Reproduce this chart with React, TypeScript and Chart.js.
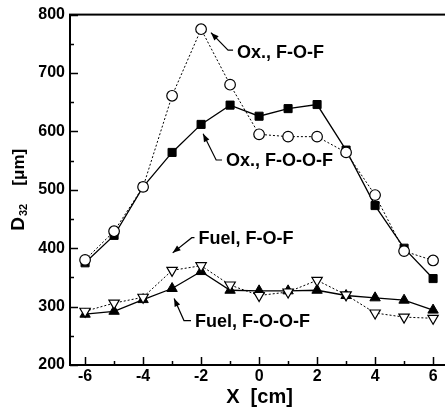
import React, { useEffect, useRef } from "react";
import { Chart, registerables } from "chart.js";

Chart.register(...registerables);

// ---- data ----
const xPositions = [-6, -5, -4, -3, -2, -1, 0, 1, 2, 3, 4, 5, 6];
const oxFOF = [380, 429, 505, 661, 775, 680, 595, 591, 591, 564, 491, 395, 379];
const oxFOOF = [375, 422, 505, 564, 612, 645, 626, 639, 646, 568, 473, 400, 348];
const fuelFOF = [292, 306, 316, 362, 370, 337, 319, 325, 345, 320, 289, 282, 280];
const fuelFOOF = [287, 292, 312, 331, 360, 328, 327, 327, 328, 319, 315, 311, 294];

const xTicks = [-6, -4, -2, 0, 2, 4, 6];
const yTicks = [200, 300, 400, 500, 600, 700, 800];
const xMinorTicks = [-5, -3, -1, 1, 3, 5];
const yMinorTicks = [250, 350, 450, 550, 650, 750];

const xTitle = "X  [cm]";
const yTitleMain = "D";
const yTitleSub = "32";
const yTitleUnit = "[\u03bcm]";

// annotation labels (data coordinates)
const labelTexts = ["Ox., F-O-F", "Ox., F-O-O-F", "Fuel, F-O-F", "Fuel, F-O-O-F"];
const labelX = [-0.76, -1.14, -2.09, -2.21];
const labelY = [734, 550, 416, 274];
const bendX = [-1.07, -1.48, -2.32, -2.59];
const bendY = [739, 551, 418, 276];
const tipX = [-1.66, -1.93, -2.98, -2.93];
const tipY = [769, 596, 392, 314];

const FONT = "'Liberation Sans', Arial, sans-serif";

const toPoints = (ys: number[]) => xPositions.map((x, i) => ({ x, y: ys[i] }));

const decorPlugin = {
  id: "decor",
  afterDraw(chart: any) {
    const ctx = chart.ctx as CanvasRenderingContext2D;
    const { left, right, top, bottom } = chart.chartArea;
    const xs = chart.scales.x;
    const ys = chart.scales.y;
    ctx.save();
    ctx.strokeStyle = "#000";
    ctx.fillStyle = "#000";

    // frame
    ctx.lineWidth = 2;
    ctx.strokeRect(left, top, right - left, bottom - top);

    // ticks (inward)
    ctx.lineWidth = 1.5;
    ctx.beginPath();
    xTicks.forEach((v) => {
      const px = Math.round(xs.getPixelForValue(v)) + 0.5;
      ctx.moveTo(px, bottom);
      ctx.lineTo(px, bottom - 8);
    });
    xMinorTicks.forEach((v) => {
      const px = Math.round(xs.getPixelForValue(v)) + 0.5;
      ctx.moveTo(px, bottom);
      ctx.lineTo(px, bottom - 4);
    });
    yTicks.forEach((v) => {
      const py = Math.round(ys.getPixelForValue(v)) + 0.5;
      ctx.moveTo(left, py);
      ctx.lineTo(left + 8, py);
    });
    yMinorTicks.forEach((v) => {
      const py = Math.round(ys.getPixelForValue(v)) + 0.5;
      ctx.moveTo(left, py);
      ctx.lineTo(left + 4, py);
    });
    ctx.stroke();

    // annotations
    ctx.lineWidth = 1.2;
    ctx.font = `bold 18px ${FONT}`;
    ctx.textBaseline = "middle";
    ctx.textAlign = "left";
    labelTexts.forEach((t, i) => {
      const tx = xs.getPixelForValue(labelX[i]);
      const ty = ys.getPixelForValue(labelY[i]);
      const bx = xs.getPixelForValue(bendX[i]);
      const by = ys.getPixelForValue(bendY[i]);
      const px = xs.getPixelForValue(tipX[i]);
      const py = ys.getPixelForValue(tipY[i]);
      ctx.fillText(t, tx, ty);
      ctx.beginPath();
      ctx.moveTo(tx - 4, by);
      ctx.lineTo(bx, by);
      ctx.lineTo(px, py);
      ctx.stroke();
      const ang = Math.atan2(py - by, px - bx);
      const len = 8;
      const hw = 3;
      ctx.beginPath();
      ctx.moveTo(px, py);
      ctx.lineTo(
        px - len * Math.cos(ang) + hw * Math.sin(ang),
        py - len * Math.sin(ang) - hw * Math.cos(ang)
      );
      ctx.lineTo(
        px - len * Math.cos(ang) - hw * Math.sin(ang),
        py - len * Math.sin(ang) + hw * Math.cos(ang)
      );
      ctx.closePath();
      ctx.fill();
    });

    // x title
    ctx.font = `bold 20px ${FONT}`;
    ctx.textAlign = "center";
    ctx.textBaseline = "middle";
    ctx.fillText(xTitle, (left + 447) / 2 + 1, 397);

    // y title (rotated, with subscript)
    const cy = (top + bottom) / 2;
    ctx.translate(24, cy);
    ctx.rotate(-Math.PI / 2);
    ctx.textBaseline = "alphabetic";
    ctx.textAlign = "left";
    ctx.font = `bold 19px ${FONT}`;
    const startX = -41;
    ctx.fillText(yTitleMain, startX, 0);
    const dW = ctx.measureText(yTitleMain).width;
    ctx.font = `bold 11px ${FONT}`;
    ctx.fillText(yTitleSub, startX + dW + 1, 3);
    ctx.font = `bold 17px ${FONT}`;
    ctx.textAlign = "right";
    ctx.fillText(yTitleUnit, 41, 0);

    ctx.restore();
  },
};

export default function App() {
  const ref = useRef<HTMLCanvasElement | null>(null);

  useEffect(() => {
    if (!ref.current) return;
    const tickFont = { family: FONT, size: 16, weight: "bold" as const };
    const chart = new Chart(ref.current, {
      type: "line",
      data: {
        datasets: [
          {
            label: "Ox., F-O-F",
            data: toPoints(oxFOF),
            borderColor: "#000",
            borderWidth: 1,
            borderDash: [2, 2],
            pointStyle: "circle",
            pointRadius: 5.3,
            pointBackgroundColor: "#fff",
            pointBorderColor: "#000",
            pointBorderWidth: 1.2,
            order: 0,
          },
          {
            label: "Ox., F-O-O-F",
            data: toPoints(oxFOOF),
            borderColor: "#000",
            borderWidth: 1.3,
            pointStyle: "rect",
            pointRadius: 5.7,
            pointBackgroundColor: "#000",
            pointBorderColor: "#000",
            pointBorderWidth: 1,
            order: 1,
          },
          {
            label: "Fuel, F-O-F",
            data: toPoints(fuelFOF),
            borderColor: "#000",
            borderWidth: 1,
            borderDash: [2, 2],
            pointStyle: "triangle",
            pointRotation: 180,
            pointRadius: 6,
            pointBackgroundColor: "#fff",
            pointBorderColor: "#000",
            pointBorderWidth: 1.2,
            order: 0,
          },
          {
            label: "Fuel, F-O-O-F",
            data: toPoints(fuelFOOF),
            borderColor: "#000",
            borderWidth: 1.3,
            pointStyle: "triangle",
            pointRadius: 6,
            pointBackgroundColor: "#000",
            pointBorderColor: "#000",
            pointBorderWidth: 1,
            order: 1,
          },
        ],
      },
      options: {
        animation: false,
        responsive: false,
        layout: { padding: { left: 0, top: 13, right: 13, bottom: 0 } },
        plugins: {
          legend: { display: false },
          tooltip: { enabled: false },
          title: { display: false },
        },
        elements: { line: { tension: 0 } },
        scales: {
          x: {
            type: "linear",
            min: -6.52,
            max: 6.48,
            afterBuildTicks: (s: any) => {
              s.ticks = xTicks.map((v) => ({ value: v }));
            },
            afterFit: (s: any) => {
              s.height = 45;
            },
            grid: { display: false, drawTicks: false },
            border: { display: false },
            ticks: {
              padding: 2,
              font: tickFont,
              color: "#000",
              maxRotation: 0,
              autoSkip: false,
              callback: (v: any) => String(v),
            },
          },
          y: {
            type: "linear",
            min: 200,
            max: 800,
            afterBuildTicks: (s: any) => {
              s.ticks = yTicks.map((v) => ({ value: v }));
            },
            afterFit: (s: any) => {
              s.width = 70;
            },
            grid: { display: false, drawTicks: false },
            border: { display: false },
            ticks: {
              padding: 5,
              font: tickFont,
              color: "#000",
              autoSkip: false,
              callback: (v: any) => String(v),
            },
          },
        },
      },
      plugins: [decorPlugin],
    });
    return () => chart.destroy();
  }, []);

  return (
    <div
      style={{
        position: "fixed",
        left: 0,
        top: 0,
        width: 445,
        height: 410,
        overflow: "hidden",
        background: "#fff",
      }}
    >
      <canvas
        ref={ref}
        width={460}
        height={410}
        style={{ display: "block", width: 460, height: 410 }}
      />
    </div>
  );
}
